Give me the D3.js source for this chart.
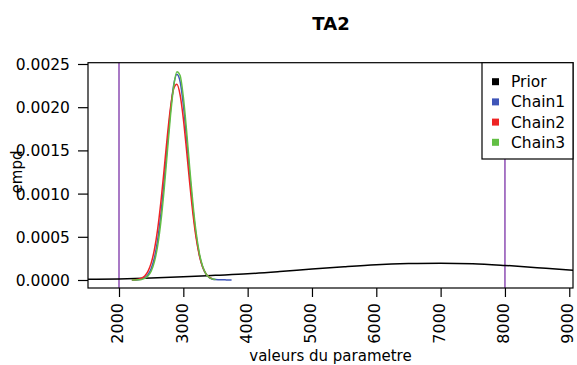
<!DOCTYPE html>
<html>
<head>
<meta charset="utf-8">
<script src="https://cdn.jsdelivr.net/npm/d3@7"></script>
<style>
  html, body { margin: 0; padding: 0; background: #fff; }
  svg { display: block; font-family: "DejaVu Sans", sans-serif; }
</style>
</head>
<body>
<svg id="chart" width="577" height="365"></svg>
<script>
// Posterior density of parameter TA2 for three MCMC chains, with its prior.
const title = "TA2";
const xLabel = "valeurs du parametre";
const yLabel = "empd";

const xTicks = [2000, 3000, 4000, 5000, 6000, 7000, 8000, 9000];
const yTicks = [0, 0.0005, 0.0010, 0.0015, 0.0020, 0.0025];
const yTickLabels = ["0.0000", "0.0005", "0.0010", "0.0015", "0.0020", "0.0025"];

// Bounds of the prior (vertical reference lines)
const bounds = [2000, 8000];

const priorX = [1500, 2000, 2500, 3000, 3500, 4000, 4500, 5000, 5500, 6000, 6500, 7000, 7500, 8000, 8500, 9000, 9100];
const priorY = [0.000008, 0.000013, 0.000024, 0.000038, 0.000054, 0.000071, 0.000097, 0.000127, 0.000154, 0.000177, 0.000190, 0.000195, 0.000189, 0.000169, 0.000143, 0.000116, 0.000110];

const chainX = [2200, 2250, 2300, 2350, 2400, 2450, 2500, 2550, 2600, 2650, 2700, 2750, 2800, 2850, 2900, 2950, 3000, 3050, 3100, 3150, 3200, 3250, 3300, 3350, 3400, 3450, 3500, 3550, 3600, 3650, 3700, 3750];
const chain1 = [0.0000004, 0.0000012, 0.0000036, 0.0000101, 0.000026, 0.000061, 0.00013, 0.000255, 0.000458, 0.000752, 0.00113, 0.001555, 0.001958, 0.002256, 0.00238, 0.002296, 0.002028, 0.00164, 0.001214, 0.000822, 0.000509, 0.000289, 0.00015, 0.0000713, 0.000031, 0.0000124, 0.000005, 0.000003, 0.000002, 0.0000015, 0.000001, 0.000001];
const chain2 = [0.000001, 0.000003, 0.0000082, 0.0000205, 0.000047, 0.0001, 0.000195, 0.000351, 0.000584, 0.000896, 0.001267, 0.001655, 0.001992, 0.002212, 0.002266, 0.002142, 0.001867, 0.001502, 0.001114, 0.000762, 0.000481, 0.00028, 0.00015, 0.0000746, 0.000034, 0.0000144];
const chain3 = [0.0000002, 0.0000007, 0.0000023, 0.0000069, 0.0000185, 0.0000456, 0.000102, 0.00021, 0.000391, 0.000666, 0.001035, 0.001468, 0.001898, 0.002239, 0.00241, 0.002366, 0.002119, 0.001732, 0.001291, 0.000878, 0.000545, 0.000308, 0.000159, 0.000075, 0.000032, 0.0000126, 0.0000045];

const seriesNames = ["Prior", "Chain1", "Chain2", "Chain3"];
const seriesColors = ["#000000", "#3f55b8", "#ee2424", "#62bf44"];
const boundColor = "#9458b8";

const svg = d3.select("#chart");
const plot = { left: 88, right: 573, top: 62.7, bottom: 288 };

const x = d3.scaleLinear().domain([1518, 9058]).range([plot.left, plot.right]);
const y = d3.scaleLinear().domain([-0.0000926, 0.002515]).range([plot.bottom, plot.top]);

svg.append("defs").append("clipPath").attr("id", "plotClip")
  .append("rect")
  .attr("x", plot.left).attr("y", plot.top)
  .attr("width", plot.right - plot.left).attr("height", plot.bottom - plot.top);

const g = svg.append("g").attr("clip-path", "url(#plotClip)");

// Prior bounds
g.selectAll("line.bound").data(bounds).join("line")
  .attr("class", "bound")
  .attr("x1", d => x(d)).attr("x2", d => x(d))
  .attr("y1", plot.top).attr("y2", plot.bottom)
  .attr("stroke", boundColor).attr("stroke-width", 1.6);

const line = d3.line()
  .x(d => x(d[0])).y(d => y(d[1]))
  .curve(d3.curveMonotoneX);

const series = [
  { name: "Prior", xs: priorX, ys: priorY, color: seriesColors[0] },
  { name: "Chain1", xs: chainX, ys: chain1, color: seriesColors[1] },
  { name: "Chain2", xs: chainX, ys: chain2, color: seriesColors[2] },
  { name: "Chain3", xs: chainX, ys: chain3, color: seriesColors[3] }
];

series.forEach(s => {
  g.append("path")
    .datum(s.ys.map((v, i) => [s.xs[i], v]))
    .attr("fill", "none")
    .attr("stroke", s.color)
    .attr("stroke-width", 1.5)
    .attr("d", line);
});

// Frame
svg.append("rect")
  .attr("x", plot.left).attr("y", plot.top)
  .attr("width", plot.right - plot.left).attr("height", plot.bottom - plot.top)
  .attr("fill", "none").attr("stroke", "#000").attr("stroke-width", 1.2);

// X axis
const xAxis = svg.append("g").attr("transform", `translate(0,${plot.bottom})`)
  .call(d3.axisBottom(x).tickValues(xTicks).tickSize(9).tickFormat(d3.format("d")));
xAxis.select(".domain").remove();
xAxis.selectAll(".tick line").attr("stroke", "#000").attr("stroke-width", 1.2);
xAxis.selectAll(".tick text")
  .attr("font-size", 16)
  .attr("font-family", "DejaVu Sans")
  .attr("fill", "#000")
  .attr("text-anchor", "end")
  .attr("dy", "0.23em")
  .attr("y", 0)
  .attr("x", 0)
  .attr("transform", "translate(0,15) rotate(-90)");

// Y axis
const yAxis = svg.append("g").attr("transform", `translate(${plot.left},0)`)
  .call(d3.axisLeft(y).tickValues(yTicks).tickSize(10).tickFormat((d, i) => yTickLabels[i]));
yAxis.select(".domain").remove();
yAxis.selectAll(".tick line").attr("stroke", "#000").attr("stroke-width", 1.2);
yAxis.selectAll(".tick text")
  .attr("font-size", 15.5)
  .attr("font-family", "DejaVu Sans")
  .attr("fill", "#000")
  .attr("x", -18)
  .attr("dy", "0.36em");

// Titles
svg.append("text")
  .attr("x", 331).attr("y", 30)
  .attr("text-anchor", "middle")
  .attr("font-size", 18).attr("font-weight", "bold")
  .text(title);

svg.append("text")
  .attr("x", 330.5).attr("y", 361)
  .attr("text-anchor", "middle")
  .attr("font-size", 15)
  .text(xLabel);

svg.append("text")
  .attr("transform", "translate(22,172) rotate(-90)")
  .attr("text-anchor", "middle")
  .attr("font-size", 15)
  .text(yLabel);

// Legend
const legend = svg.append("g");
legend.append("rect")
  .attr("x", 482).attr("y", plot.top)
  .attr("width", plot.right - 482).attr("height", 159 - plot.top)
  .attr("fill", "#fff").attr("stroke", "#000").attr("stroke-width", 1.2);

const rows = legend.selectAll("g.row").data(seriesNames).join("g")
  .attr("class", "row")
  .attr("transform", (d, i) => `translate(0,${81.7 + i * 20.2})`);
rows.append("rect")
  .attr("x", 492).attr("y", -3.5).attr("width", 7).attr("height", 7)
  .attr("fill", (d, i) => seriesColors[i]);
rows.append("text")
  .attr("x", 511).attr("dy", "0.36em")
  .attr("font-size", 15.5)
  .text(d => d);
</script>
</body>
</html>
